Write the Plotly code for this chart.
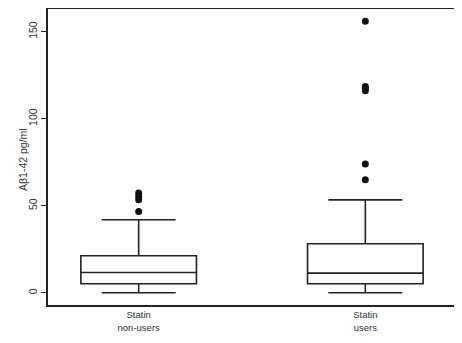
import plotly.graph_objects as go

categories = ["Statin<br>non-users", "Statin<br>users"]
q1 = [5.2, 5.2]
median = [11.7, 11.3]
q3 = [21.3, 28.2]
lower_whisker = [0.0, 0.0]
upper_whisker = [42.0, 53.4]
outliers_nonusers = [46.7, 53.4, 55.3, 57.3]
outliers_users = [65.0, 74.0, 116.0, 117.5, 118.5, 156.0]
ytick_vals = [0, 50, 100, 150]
ytitle = "Aβ1-42 pg/ml"

xpos = [0, 1]
fig = go.Figure()
fig.add_trace(go.Box(
    x=xpos, q1=q1, median=median, q3=q3,
    lowerfence=lower_whisker, upperfence=upper_whisker,
    width=0.51, whiskerwidth=0.64,
    fillcolor="rgba(0,0,0,0)",
    line=dict(color="#222222", width=1.6),
    boxpoints=False, showlegend=False, hoverinfo="skip",
))
fig.add_trace(go.Scatter(
    x=[xpos[0]] * len(outliers_nonusers) + [xpos[1]] * len(outliers_users),
    y=outliers_nonusers + outliers_users,
    mode="markers",
    marker=dict(color="#111111", size=7),
    showlegend=False,
))
fig.add_annotation(
    text=ytitle, xref="paper", yref="paper", x=0, y=0.5,
    xanchor="center", yanchor="middle", xshift=-25, yshift=-3,
    textangle=-90, showarrow=False,
    font=dict(size=10.5, color="#333333"),
)
fig.update_layout(
    width=454, height=335,
    margin=dict(l=40, r=6, t=1, b=38, autoexpand=False),
    paper_bgcolor="white", plot_bgcolor="white",
    font=dict(family="Liberation Sans, Arial, sans-serif", color="#333333", size=10),
    xaxis=dict(
        range=[-0.4, 1.4], tickvals=xpos, ticktext=categories,
        showgrid=False, zeroline=False, ticks="",
        showline=True, linecolor="#222222", linewidth=2, mirror=True,
        tickfont=dict(size=9.5), automargin=False,
    ),
    yaxis=dict(
        range=[-7, 163], tickvals=ytick_vals, tickangle=-90,
        showgrid=False, zeroline=False,
        ticks="outside", ticklen=5, tickcolor="#222222", tickwidth=1.3,
        showline=True, linecolor="#222222", linewidth=2, mirror=True,
        tickfont=dict(size=10.5), automargin=False,
    ),
)
fig.write_html("out.html")
